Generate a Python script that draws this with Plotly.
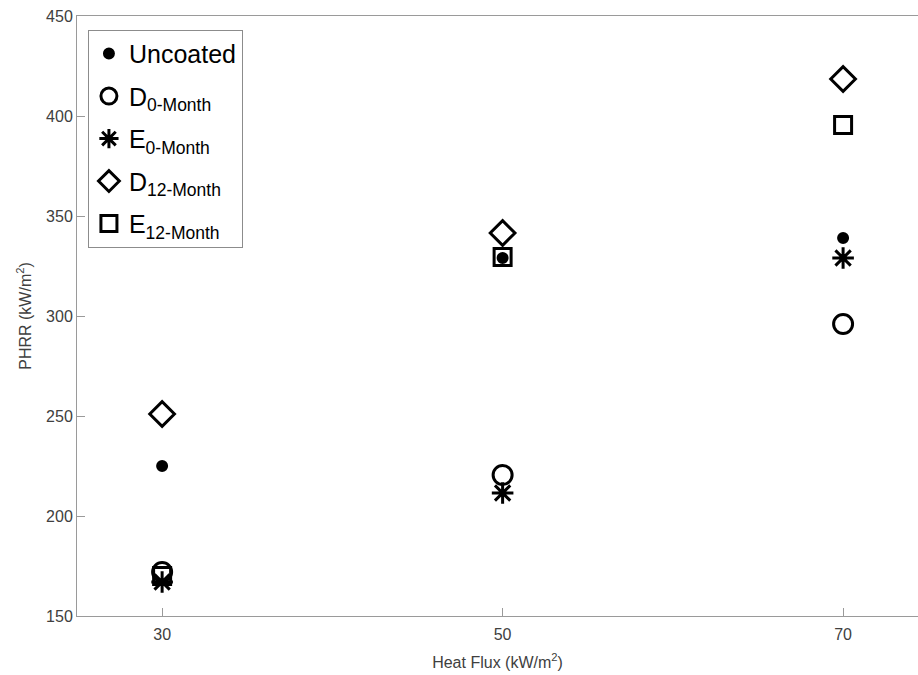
import plotly.graph_objects as go

heat_flux = [30, 50, 70]
uncoated = [225, 329, 339]
d_0month = [172, 220.5, 296]
e_0month = [167, 211.5, 329]
d_12month = [251, 341.5, 418.5]
e_12month = [170, 329.5, 395.5]

names = ["Uncoated",
         "D<sub>0-Month</sub>",
         "E<sub>0-Month</sub>",
         "D<sub>12-Month</sub>",
         "E<sub>12-Month</sub>"]
series = [uncoated, d_0month, e_0month, d_12month, e_12month]
symbols = ["circle", "circle-open", "asterisk-open", "diamond-open", "square-open"]
sizes = [9, 19, 18, 19, 17]

fig = go.Figure()
for i, (nm, ys, sym, sz) in enumerate(zip(names, series, symbols, sizes)):
    fig.add_trace(go.Scatter(
        x=heat_flux, y=ys, mode="markers", name=nm, legendgroup=f"g{i}",
        marker=dict(symbol=sym, size=sz, color="black",
                    line=dict(color="black", width=3)),
    ))

axis_font = dict(family="Liberation Sans, Arial, sans-serif", size=15, color="#262626")
fig.update_layout(
    width=918, height=675,
    margin=dict(l=77, r=0, t=16, b=59),
    paper_bgcolor="white", plot_bgcolor="white",
    showlegend=True,
    legend=dict(x=0.013, y=0.977, xanchor="left", yanchor="top",
                bordercolor="#8c8c8c", borderwidth=1, bgcolor="white",
                font=dict(family="Liberation Sans, Arial, sans-serif", size=25, color="black"),
                tracegroupgap=7, itemwidth=30),
    font=axis_font,
)
fig.update_xaxes(
    range=[25, 74.4], tickvals=heat_flux, ticktext=["30", "50", "70"],
    showline=True, linecolor="#9a9a9a", linewidth=1, mirror=True,
    ticks="inside", ticklen=8, tickcolor="#9a9a9a",
    showgrid=False, zeroline=False, ticklabelstandoff=4,
    title=dict(text="Heat Flux (kW/m<sup>2</sup>)", font=dict(size=16, color="#404040"), standoff=14),
    tickfont=dict(size=16, color="#404040"),
)
fig.update_yaxes(
    range=[150, 450], tickvals=[150, 200, 250, 300, 350, 400, 450],
    showline=True, linecolor="#9a9a9a", linewidth=1, mirror=False,
    ticks="inside", ticklen=8, tickcolor="#9a9a9a",
    showgrid=False, zeroline=False,
    title=dict(text="PHRR (kW/m<sup>2</sup>)", font=dict(size=16, color="#404040"), standoff=10),
    tickfont=dict(size=16, color="#404040"),
)

fig.write_html("out.html")
